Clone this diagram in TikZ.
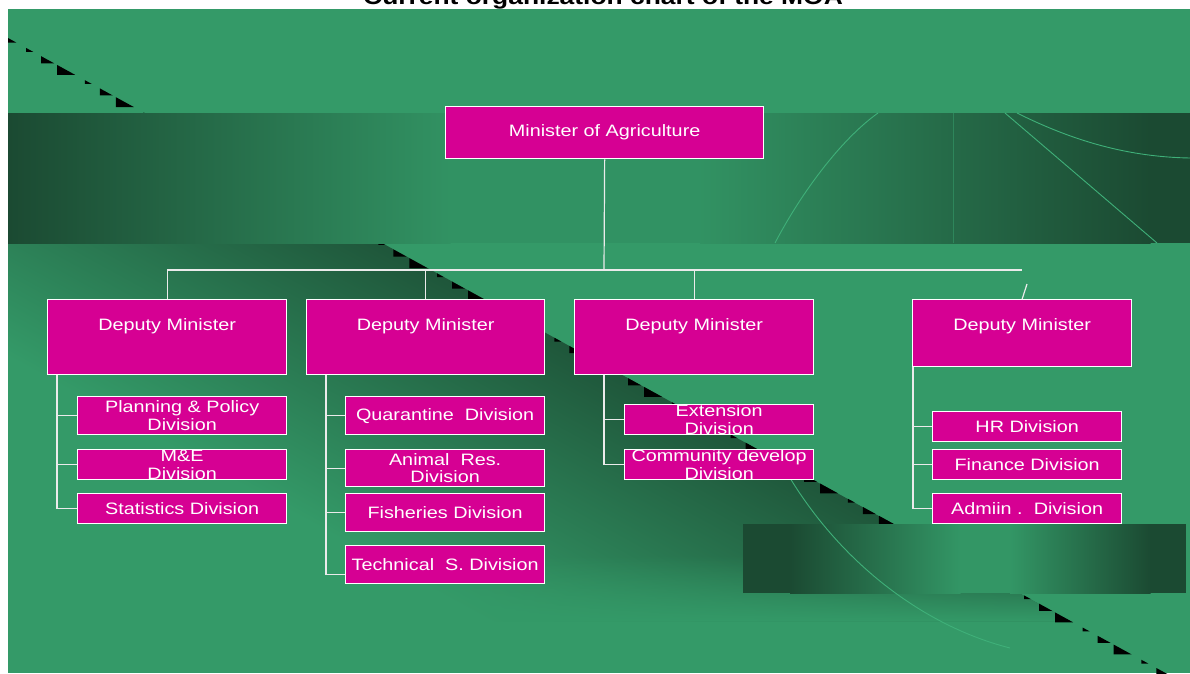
\documentclass[tikz,border=0pt]{standalone}
\usepackage{fontspec}
\setmainfont{Liberation Sans}[FakeStretch=1.2]
\usetikzlibrary{positioning,calc,fadings}
\definecolor{cLeaf}{HTML}{349A68}
\definecolor{cForest}{HTML}{1B4A32}
\definecolor{cRose}{HTML}{D60093}
\definecolor{cVein}{HTML}{3FB079}

\begin{document}
\begin{tikzpicture}[x=1pt,y=-1pt,font=\fontsize{16.5}{17.7}\selectfont,
    unit/.style={draw=white,fill=cRose,text=white,line width=1.3pt,inner sep=0pt,
      anchor=north west,align=center},
    deputy/.style={unit,minimum width=239pt,text height=31pt,text depth=44pt},
    office/.style={unit,minimum width=#1,minimum height=30pt},
    link/.style={white!92!black,line width=1.2pt},
    vein/.style={cVein,line width=0.9pt}]
  \useasboundingbox (0,0) rectangle (1190,673);

  % slide background
  \fill[cLeaf] (8,9) rectangle (1190,673);
  \begin{scope}
    \clip (8,9) rectangle (1190,673);
    \begin{scope}
      \clip (8,243) -- (382,243) -- (1070,621) -- (8,621) -- cycle;
      \begin{scope}[transform canvas={shift={(382,243)},rotate=-28.75}]
        \shade[top color=cForest!85!cLeaf,bottom color=cLeaf] (-700,0) rectangle (1300,280);
      \end{scope}
      \fill[cLeaf,path fading=north] (8,555) rectangle (1070,622);
    \end{scope}
    % staircase along the diagonal
    \foreach \k in {-8,...,12}
      \foreach \dx/\sz in {0/7,15/13,31/18}{
        \pgfmathsetmacro\tx{437+58.7*\k+\dx}
        \pgfmathsetmacro\ty{38+0.5486*(\tx-8)}
        \pgfmathsetmacro\tz{0.5486*\sz}
        \fill (\tx,\ty) -- (\tx,\ty+\tz) -- (\tx+\sz,\ty+\tz) -- cycle;
      }
  \end{scope}

  % top band
  \shade[left color=cForest,right color=cLeaf!90!cForest] (8,113) rectangle (450.5,243);
  \fill[cLeaf!90!cForest] (450,113) rectangle (700.5,243);
  \shade[left color=cLeaf!90!cForest,right color=cForest] (700,113) rectangle (1150.5,243);
  \fill[cForest] (1150,113) rectangle (1190,243);
  \draw[vein] (878,113) .. controls (840,140) and (800,195) .. (775,243);
  \draw[cLeaf!75!cForest,line width=1pt] (953,113) -- (953,243);
  \draw[vein] (1005,113) -- (1157,243);
  \draw[vein] (1017,113) .. controls (1075,142) and (1130,157) .. (1190,158);

  % bottom band
  \fill[cForest] (743,524) rectangle (790.5,593);
  \shade[left color=cForest,right color=cLeaf!95!cForest] (790,524) rectangle (960.5,593);
  \fill[cLeaf!95!cForest] (960,524) rectangle (1010.5,593);
  \shade[left color=cLeaf!95!cForest,right color=cForest] (1010,524) rectangle (1150.5,593);
  \fill[cForest] (1150,524) rectangle (1186,593);
  \draw[vein] (790,478) .. controls (840,560) and (920,625) .. (1010,648);

  \node[font=\fontsize{22}{24}\selectfont\bfseries,anchor=base] (title) at (603,4)
    {Current organization chart of the MOA};

  % chart
  \node[unit,minimum width=318pt,minimum height=52pt] (min) at (445,106) {Minister of Agriculture};
  \node[deputy] (d1) at (47,299) {Deputy Minister};
  \node[deputy,minimum width=238pt] (d2) at (306,299) {Deputy Minister};
  \node[deputy] (d3) at (574,299) {Deputy Minister};
  \node[deputy,minimum width=219pt,text depth=36pt] (d4) at (912,299) {Deputy Minister};

  \node[unit,minimum width=209pt,text height=34pt,text depth=4pt] (plan) at (77,396) {Planning \& Policy\\Division};
  \node[unit,minimum width=209pt,text height=30pt,text depth=0pt] (mne) at (77,449) {M\&E\\Division};
  \node[office=209pt] (stat) at (77,493) {Statistics Division};

  \node[office=199pt,minimum height=38pt] (quar) at (345,396) {Quarantine\ \ Division};
  \node[unit,minimum width=199pt,text height=33.3pt,text depth=3.7pt] (anim) at (345,449) {Animal\ \ Res.\\Division};
  \node[office=199pt,minimum height=38pt] (fish) at (345,493) {Fisheries Division};
  \node[office=199pt,minimum height=38pt] (tech) at (345,545) {Technical\ \ S. Division};

  \node[unit,minimum width=189pt,text height=30pt,text depth=0pt] (ext) at (624,404) {Extension\\Division};
  \node[unit,minimum width=189pt,text height=30pt,text depth=0pt] (comm) at (624,449) {Community develop\\Division};

  \node[office=189pt] (hr) at (932,411) {HR Division};
  \node[office=189pt] (fin) at (932,449) {Finance Division};
  \node[office=189pt] (adm) at (932,493) {Admiin~.~~Division};

  % links
  \coordinate (bus) at (604,270);
  \coordinate (kink) at (1027,284);
  \draw[link] (min.south) -- (bus);
  \draw[link] (d1.north) -- (d1.north |- bus) -- (d4.north |- bus);
  \draw[link] (d4.north) -- (kink);
  \draw[link] (d2.north) -- (d2.north |- bus);
  \draw[link] (d3.north) -- (d3.north |- bus);

  \coordinate (s1) at ([xshift=10pt]d1.south west);
  \draw[link] (s1) |- (stat.west);
  \foreach \c in {plan,mne} \draw[link] (\c.west) -- (\c.west -| s1);

  \coordinate (s2) at ([xshift=20pt]d2.south west);
  \draw[link] (s2) |- ([yshift=-10pt]tech.west);
  \foreach \c in {quar,anim,fish} \draw[link] (\c.west) -- (\c.west -| s2);

  \coordinate (s3) at ([xshift=30pt]d3.south west);
  \draw[link] (s3) |- (comm.west);
  \draw[link] (ext.west) -- (ext.west -| s3);

  \coordinate (s4) at ([xshift=1pt]d4.south west);
  \draw[link] (s4) |- (adm.west);
  \foreach \c in {hr,fin} \draw[link] (\c.west) -- (\c.west -| s4);
\end{tikzpicture}
\end{document}
